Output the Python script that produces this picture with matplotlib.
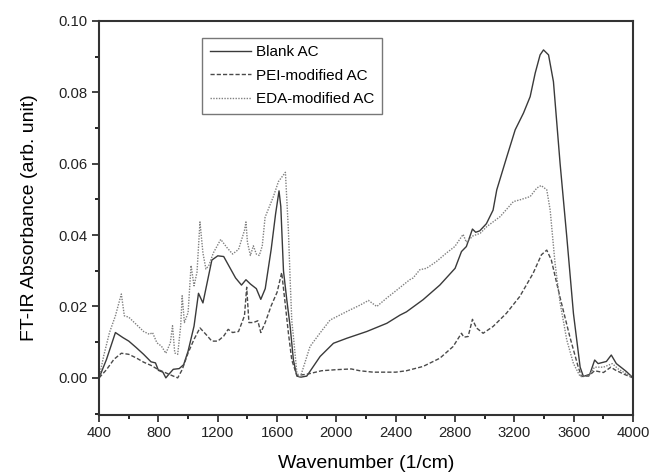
import matplotlib
matplotlib.use("Agg")
import matplotlib.pyplot as plt
import numpy as np

plt.rcParams['font.family'] = ['Liberation Sans', 'DejaVu Sans']

# Blank AC (solid)
blank_x = [400, 450, 510, 560, 600, 650, 700, 750, 780, 800, 830, 850, 870, 900, 940, 970,
           1000, 1040, 1070, 1100, 1130, 1160, 1200, 1240, 1280, 1320, 1360, 1390, 1420, 1460,
           1490, 1520, 1560, 1590, 1613, 1625, 1643, 1665, 1688, 1710, 1733, 1760, 1800, 1890,
           1980, 2070, 2205, 2340, 2429, 2472, 2584, 2697, 2800, 2843, 2876, 2917, 2939, 2966,
           3011, 3056, 3081, 3149, 3205, 3261, 3306, 3340, 3373, 3396, 3430, 3463, 3508, 3553,
           3598, 3643, 3665, 3708, 3741, 3764, 3820, 3853, 3887, 3954, 4000]
blank_y = [0.0000, 0.0052, 0.0127, 0.0113, 0.0103, 0.0085, 0.0066, 0.0045, 0.0042, 0.0021,
           0.0016, 0.0000, 0.0010, 0.0024, 0.0026, 0.0037, 0.0075, 0.0145, 0.0237, 0.0210,
           0.0270, 0.0330, 0.0342, 0.0340, 0.0310, 0.0280, 0.0260, 0.0275, 0.0263, 0.0250,
           0.0220, 0.0250, 0.0360, 0.0460, 0.0524, 0.0480, 0.0300, 0.0220, 0.0144, 0.0050,
           0.0005, 0.0002, 0.0005, 0.0060, 0.0097, 0.0111, 0.0130, 0.0153, 0.0176, 0.0185,
           0.0219, 0.0260, 0.0307, 0.0354, 0.0368, 0.0417, 0.0408, 0.0412, 0.0432, 0.0470,
           0.0527, 0.0620, 0.0695, 0.0742, 0.0788, 0.0854, 0.0905, 0.0919, 0.0905, 0.0830,
           0.0600, 0.0395, 0.0180, 0.0030, 0.0004, 0.0010, 0.0050, 0.0040, 0.0046, 0.0064,
           0.0040, 0.0018, 0.0000]

# PEI-modified AC (dashed)
pei_x = [400, 450, 500, 550, 600, 650, 700, 750, 800, 850, 900, 930, 960, 1000, 1040, 1080,
         1120, 1160, 1200, 1240, 1270, 1300, 1340, 1380, 1395, 1410, 1440, 1470, 1490, 1520,
         1560, 1600, 1631, 1654, 1676, 1699, 1733, 1800, 1900, 2000, 2100, 2157, 2247, 2400,
         2472, 2584, 2697, 2787, 2843, 2859, 2888, 2917, 2944, 2989, 3056, 3146, 3236, 3326,
         3382, 3418, 3449, 3506, 3573, 3629, 3652, 3700, 3740, 3800, 3850, 3880, 3940, 4000]
pei_y = [0.0000, 0.0023, 0.0052, 0.0069, 0.0066, 0.0056, 0.0044, 0.0035, 0.0023, 0.0014,
         0.0005, 0.0000, 0.0023, 0.0070, 0.0108, 0.0140, 0.0122, 0.0103, 0.0103, 0.0117,
         0.0136, 0.0127, 0.0130, 0.0174, 0.0254, 0.0155, 0.0155, 0.0160, 0.0127, 0.0155,
         0.0202, 0.0240, 0.0295, 0.0210, 0.0126, 0.0050, 0.0007, 0.0010, 0.0020, 0.0023,
         0.0025, 0.0020, 0.0016, 0.0016, 0.0020, 0.0032, 0.0055, 0.0088, 0.0125, 0.0114,
         0.0116, 0.0164, 0.0140, 0.0125, 0.0144, 0.0181, 0.0228, 0.0293, 0.0345, 0.0358,
         0.0330, 0.0228, 0.0116, 0.0032, 0.0004, 0.0005, 0.0020, 0.0015, 0.0030, 0.0022,
         0.0010, 0.0000]

# EDA-modified AC (dotted)
eda_x = [400, 430, 470, 510, 540, 550, 570, 600, 650, 700, 740, 760, 790, 820, 850, 880, 895,
         910, 930, 950, 960, 975, 1000, 1020, 1040, 1060, 1080, 1100, 1120, 1140, 1170, 1220,
         1260, 1300, 1340, 1380, 1390, 1400, 1420, 1440, 1460, 1480, 1500, 1519, 1575, 1609,
         1656, 1676, 1688, 1699, 1710, 1733, 1755, 1822, 1890, 1957, 2070, 2160, 2216, 2272,
         2337, 2407, 2494, 2517, 2562, 2607, 2674, 2742, 2798, 2854, 2876, 2921, 2969, 3014,
         3104, 3193, 3238, 3306, 3351, 3380, 3418, 3441, 3474, 3508, 3553, 3598, 3643, 3700,
         3740, 3800, 3860, 3900, 4000]
eda_y = [0.0000, 0.0060, 0.0127, 0.0174, 0.0220, 0.0235, 0.0174, 0.0170, 0.0150, 0.0130,
         0.0122, 0.0127, 0.0098, 0.0089, 0.0069, 0.0098, 0.0146, 0.0070, 0.0066, 0.0146,
         0.0230, 0.0155, 0.0183, 0.0315, 0.0258, 0.0296, 0.0437, 0.0350, 0.0305, 0.0315,
         0.0350, 0.0388, 0.0366, 0.0347, 0.0360, 0.0413, 0.0437, 0.0380, 0.0343, 0.0370,
         0.0347, 0.0343, 0.0370, 0.0450, 0.0508, 0.0550, 0.0576, 0.0415, 0.0275, 0.0160,
         0.0116, 0.0015, 0.0000, 0.0088, 0.0126, 0.0162, 0.0186, 0.0204, 0.0217, 0.0200,
         0.0223, 0.0246, 0.0275, 0.0280, 0.0303, 0.0307, 0.0326, 0.0350, 0.0368, 0.0402,
         0.0380, 0.0398, 0.0405, 0.0424, 0.0452, 0.0494, 0.0499, 0.0508, 0.0532, 0.0539,
         0.0527, 0.0470, 0.0320, 0.0210, 0.0106, 0.0040, 0.0004, 0.0005, 0.0030, 0.0030,
         0.0040, 0.0025, 0.0000]

x_ticks = [400, 800, 1200, 1600, 2000, 2400, 2800, 3200, 3600, 4000]
y_ticks = [0.00, 0.02, 0.04, 0.06, 0.08, 0.10]
labels = ["Blank AC", "PEI-modified AC", "EDA-modified AC"]

fig = plt.figure(figsize=(6.52, 4.74), dpi=100)
ax = fig.add_axes([0.152, 0.1245, 0.819, 0.8312])

ax.plot(blank_x, blank_y, color='#3a3a3a', lw=1.0, ls='-', label=labels[0])
ax.plot(pei_x, pei_y, color='#4a4a4a', lw=1.0, ls=(0, (3, 1.5)), label=labels[1])
ax.plot(eda_x, eda_y, color='#808080', lw=1.0, ls=(0, (1, 1)), label=labels[2])

ax.set_xlim(400, 4000)
ax.set_ylim(-0.0104, 0.10)
ax.set_xticks(x_ticks)
ax.set_xticks(np.arange(600, 4000, 400), minor=True)
ax.set_yticks(y_ticks)
ax.set_yticks([-0.01, 0.01, 0.03, 0.05, 0.07, 0.09], minor=True)
ax.set_yticklabels([f"{v:.2f}" for v in y_ticks])
ax.tick_params(which='major', direction='out', length=5, width=1.2, labelsize=10.7,
               colors='#222222', pad=3)
ax.tick_params(which='minor', direction='out', length=3, width=1.2)
for s in ax.spines.values():
    s.set_linewidth(1.5)
    s.set_color('#333333')

ax.set_xlabel("Wavenumber (1/cm)", fontsize=14, labelpad=11)
ax.set_ylabel("FT-IR Absorbance (arb. unit)", fontsize=14, labelpad=15)

leg = ax.legend(loc='upper left', bbox_to_anchor=(0.193, 0.958), fontsize=11,
                frameon=True, fancybox=False, edgecolor='#555555', handlelength=2.7,
                borderpad=0.5, labelspacing=0.62, handletextpad=0.3, borderaxespad=0)
leg.get_frame().set_linewidth(1.0)

fig.savefig("out.png", dpi=100)
